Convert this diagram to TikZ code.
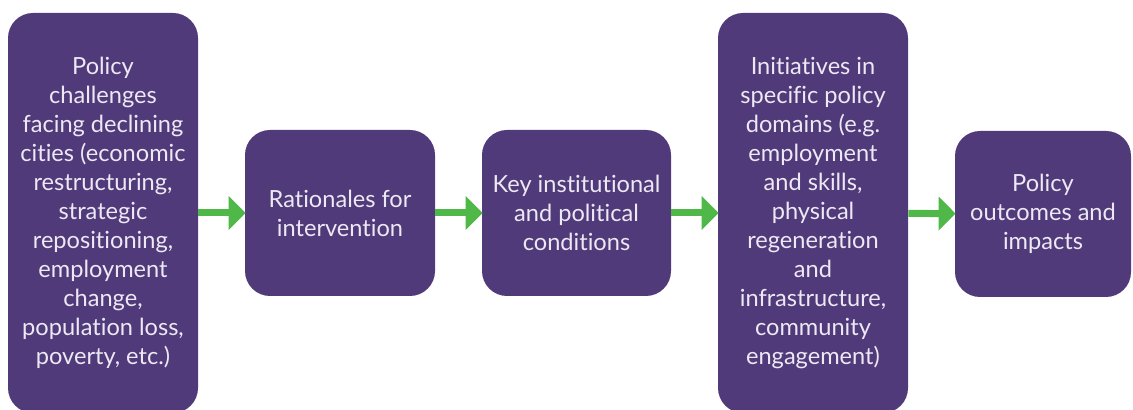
\documentclass[tikz,border=0pt]{standalone}
\usepackage{fontspec}
\setmainfont{Lato}[Ligatures=NoCommon]
\usepackage{tikz}
\usetikzlibrary{arrows.meta}
\definecolor{BoxPurple}{RGB}{81,58,121}
\definecolor{FlowGreen}{RGB}{80,184,72}
\definecolor{BoxText}{RGB}{236,232,244}

\begin{document}
\begin{tikzpicture}[x=0.5pt, y=-0.5pt,
      stage/.style={rectangle, rounded corners=12.5pt, fill=BoxPurple,
                    text=BoxText, align=center, inner sep=0pt,
                    font=\fontsize{11.8}{14.5}\selectfont},
      arr/.style={-{Triangle[width=16.5pt, length=8.5pt]}, draw=FlowGreen,
                  line width=3.5pt, shorten >=-0.5pt}
    ]
    \useasboundingbox (0,0) rectangle (1133,410);

    \node[stage, minimum width=95pt, minimum height=200pt] (chal) at (103, 213)
          {Policy\\challenges\\facing declining\\cities (economic\\restructuring,\\strategic\\repositioning,\\employment\\change,\\population loss,\\poverty, etc.)};
    \node[stage, minimum width=95pt, minimum height=83pt]  (rat)  at (340, 213)
          {Rationales for\\intervention};
    \node[stage, minimum width=94.5pt, minimum height=83pt] (cond) at (576.5, 213)
          {Key institutional\\and political\\conditions};
    \node[stage, minimum width=95pt, minimum height=200pt] (init) at (813, 213)
          {Initiatives in\\specific policy\\domains (e.g.\\employment\\and skills,\\physical\\regeneration\\and\\infrastructure,\\community\\engagement)};
    \node[stage, minimum width=88pt, minimum height=83pt]  (outc) at (1043, 214)
          {Policy\\outcomes and\\impacts};

    \foreach \a/\b in {chal/rat, rat/cond, cond/init, init/outc}
      \draw[arr] (\a) -- (\b);
  \end{tikzpicture}
\end{document}
